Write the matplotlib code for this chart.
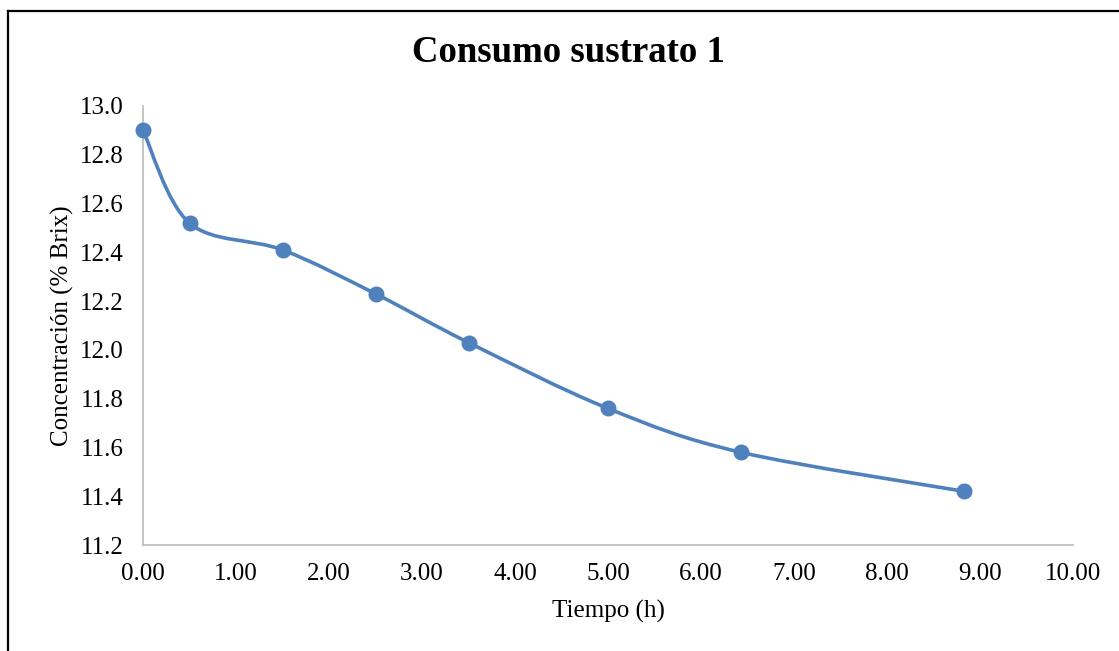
import numpy as np
import matplotlib
matplotlib.use("Agg")
import matplotlib.pyplot as plt
from matplotlib.path import Path
from matplotlib.patches import PathPatch
from matplotlib.lines import Line2D

tiempo = [0.0, 0.5, 1.5, 2.5, 3.5, 5.0, 6.43, 8.83]
concentracion = [12.90, 12.52, 12.41, 12.23, 12.03, 11.76, 11.58, 11.42]
xticks = [0, 1, 2, 3, 4, 5, 6, 7, 8, 9, 10]
yticks = [11.2, 11.4, 11.6, 11.8, 12.0, 12.2, 12.4, 12.6, 12.8, 13.0]

plt.rcParams['font.family'] = ['Liberation Serif', 'DejaVu Serif']
color = '#4F81BD'

fig = plt.figure(figsize=(11.19, 6.51), dpi=100)
ax = fig.add_axes([0.1278, 0.1628, 0.8311, 0.6744])

# Smooth curve (Excel-like Bezier smoothing)
P = np.column_stack([tiempo, concentracion])
n = len(P)
verts = [tuple(P[0])]
codes = [Path.MOVETO]
for i in range(n - 1):
    p0 = P[i - 1] if i > 0 else P[i]
    p1 = P[i]
    p2 = P[i + 1]
    p3 = P[i + 2] if i + 2 < n else P[i + 1]
    c1 = p1 + (p2 - p0) / 6.0
    c2 = p2 - (p3 - p1) / 6.0
    verts += [tuple(c1), tuple(c2), tuple(p2)]
    codes += [Path.CURVE4] * 3
patch = PathPatch(Path(verts, codes), facecolor='none', edgecolor=color, lw=2.6,
                  capstyle='round', joinstyle='round', zorder=2)
ax.add_patch(patch)
ax.plot(tiempo, concentracion, 'o', color=color, markersize=10.5, zorder=3,
        clip_on=False)

ax.set_xlim(0, 10)
ax.set_ylim(11.2, 13.0)
ax.set_xticks(xticks)
ax.set_xticklabels([f"{v:.2f}" for v in xticks])
ax.set_yticks(yticks)
ax.set_yticklabels([f"{v:.1f}" for v in yticks])
ax.tick_params(length=0, labelsize=18)
ax.tick_params(axis='x', pad=13)
ax.tick_params(axis='y', pad=14)
for s in ['top', 'right']:
    ax.spines[s].set_visible(False)
for s in ['left', 'bottom']:
    ax.spines[s].set_color('#BFBFBF')
    ax.spines[s].set_linewidth(1.3)

ax.set_xlabel('Tiempo (h)', fontsize=18, labelpad=11)
ax.set_ylabel('Concentración (% Brix)', fontsize=18, labelpad=4)
fig.text(0.508, 0.919, 'Consumo sustrato 1', ha='center', va='center',
         fontsize=26.5, fontweight='bold')

# outer border
fig.add_artist(Line2D([7.5/1119, 7.5/1119], [0, 1 - 10.5/651], transform=fig.transFigure,
                      color='black', lw=1.6))
fig.add_artist(Line2D([7.5/1119, 1], [1 - 10.5/651, 1 - 10.5/651], transform=fig.transFigure,
                      color='black', lw=1.6))

fig.savefig('out.png', dpi=100)
